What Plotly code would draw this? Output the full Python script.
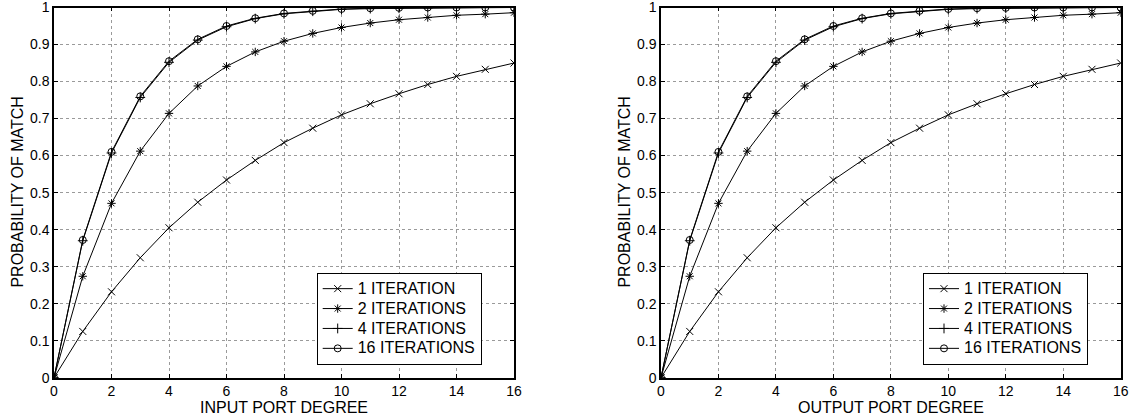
import plotly.graph_objects as go

degree = list(range(17))
iter1 = [0, 0.125, 0.232, 0.324, 0.405, 0.474, 0.534, 0.587, 0.635, 0.674, 0.710,
         0.740, 0.767, 0.792, 0.814, 0.833, 0.850]
iter2 = [0, 0.274, 0.471, 0.612, 0.714, 0.788, 0.841, 0.880, 0.909, 0.930, 0.946,
         0.958, 0.967, 0.973, 0.979, 0.982, 0.986]
iter4 = [0, 0.370, 0.607, 0.757, 0.852, 0.912, 0.948, 0.970, 0.983, 0.990, 0.995,
         0.997, 0.998, 0.999, 1.0, 1.0, 1.0]
iter16 = [0, 0.372, 0.610, 0.760, 0.855, 0.914, 0.950, 0.971, 0.984, 0.991, 0.996,
          0.998, 0.999, 1.0, 1.0, 1.0, 1.0]

series_names = ["1 ITERATION", "2 ITERATIONS", "4 ITERATIONS", "16 ITERATIONS"]
series_vals = [iter1, iter2, iter4, iter16]
symbols = ["x-thin", "asterisk", "cross-thin", "circle-open"]
x_titles = ["INPUT PORT DEGREE", "OUTPUT PORT DEGREE"]
y_title = "PROBABILITY OF MATCH"

FONT = "Liberation Sans, Arial, Helvetica, sans-serif"
W, H = 1133, 419

fig = go.Figure()

panels = [
    dict(xa="x", ya="y", leg="legend", x0=54, x1=514),
    dict(xa="x2", ya="y2", leg="legend2", x0=661, x1=1120.7),
]
ytop, ybot = 7.5, 377.7

for p in panels:
    for name, vals, sym in zip(series_names, series_vals, symbols):
        fig.add_trace(go.Scatter(
            x=degree, y=vals, name=f'<span style="font-size:16px">{name}</span>',
            mode="lines+markers",
            xaxis=p["xa"], yaxis=p["ya"], legend=p["leg"],
            line=dict(color="black", width=1),
            marker=dict(symbol=sym, size=7, color="black",
                        line=dict(color="black", width=1)),
        ))

axis_common = dict(
    showline=True, linecolor="black", linewidth=1.5, mirror="ticks",
    ticks="inside", ticklen=4, tickcolor="black", tickwidth=1,
    showgrid=True, gridcolor="#9a9a9a", gridwidth=1, griddash="dot",
    zeroline=False, tickfont=dict(family=FONT, size=14, color="black"),
    ticklabeloverflow="allow", automargin=False,
)

ydom = [1 - ybot / H, 1 - ytop / H]
layout = dict(
    width=W, height=H, margin=dict(l=0, r=0, t=0, b=0),
    paper_bgcolor="white", plot_bgcolor="white",
    font=dict(family=FONT, color="black"),
    annotations=[],
)
for i, p in enumerate(panels):
    sfx = "" if i == 0 else str(i + 1)
    layout["xaxis" + sfx] = dict(axis_common, domain=[p["x0"] / W, p["x1"] / W],
                                 range=[0, 16], dtick=2, tick0=0,
                                 anchor="y" + sfx)
    layout["yaxis" + sfx] = dict(axis_common, domain=ydom, range=[0, 1],
                                 dtick=0.1, tick0=0, anchor="x" + sfx)
    leg_x = (316.7 if i == 0 else 923) / W
    layout["legend" + sfx] = dict(
        x=leg_x, y=1 - 272.7 / H, xanchor="left", yanchor="top",
        bordercolor="black", borderwidth=1, bgcolor="white",
        font=dict(family=FONT, size=13, color="black"),
        itemwidth=30, tracegroupgap=0,
    )
    layout["annotations"].append(dict(
        text=x_titles[i], xref="paper", yref="paper",
        x=(p["x0"] + p["x1"]) / 2 / W, y=1 - 407 / H,
        xanchor="center", yanchor="middle", showarrow=False,
        font=dict(family=FONT, size=16, color="black")))
    layout["annotations"].append(dict(
        text=y_title, xref="paper", yref="paper", textangle=-90,
        x=(p["x0"] - 36) / W, y=1 - (ytop + ybot) / 2 / H,
        xanchor="center", yanchor="middle", showarrow=False,
        font=dict(family=FONT, size=16, color="black")))

fig.update_layout(**layout)
fig.write_html("out.html")
